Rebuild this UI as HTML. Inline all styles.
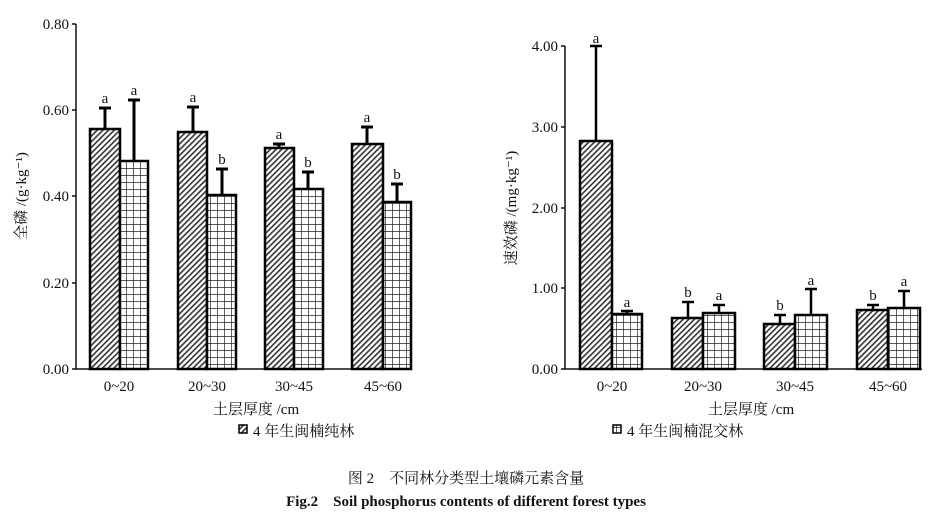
<!DOCTYPE html>
<html><head><meta charset="utf-8"><style>
html,body{margin:0;padding:0;background:#fff;}
svg{display:block;}
text{font-family:"Liberation Serif","Noto Serif CJK SC",serif;fill:#111;}
</style></head><body>
<svg width="933" height="519" viewBox="0 0 933 519" xmlns="http://www.w3.org/2000/svg">
<defs>
<pattern id="h" width="4" height="4" patternUnits="userSpaceOnUse" patternTransform="rotate(45)">
<rect width="4" height="4" fill="#fff"/><rect width="1.6" height="4" fill="#333"/></pattern>
<pattern id="c" width="7" height="7" patternUnits="userSpaceOnUse">
<rect width="7" height="7" fill="#fff"/><path d="M0 0H7M0 0V7" stroke="#222" stroke-width="1.4"/></pattern>
</defs>
<g stroke="#111" stroke-width="1.5" fill="none">
<path d="M76 24V369H412"/>
<path d="M72 24H76M72 110H76M72 196H76M72 283H76M72 369H76"/>
<path d="M565 46V369H922"/>
<path d="M561 46H565M561 127H565M561 208H565M561 288H565M561 369H565"/>
</g>
<g font-size="15" text-anchor="end">
<text x="69" y="29">0.80</text><text x="69" y="115">0.60</text><text x="69" y="201">0.40</text><text x="69" y="288">0.20</text><text x="69" y="374">0.00</text>
<text x="558" y="51">4.00</text><text x="558" y="132">3.00</text><text x="558" y="213">2.00</text><text x="558" y="293">1.00</text><text x="558" y="374">0.00</text>
</g>
<g stroke="#000" stroke-width="3">
<path d="M105 129V108M99 108H111M134 161V100M128 100H140M193 132V107M187 107H199M222 195V169M216 169H228M279 148V144M273 144H285M308 189V172M302 172H314M367 144V127M361 127H373M397 202V184M391 184H403"/>
<path d="M596 141V46M590 46H602M627 314V311M621 311H633M688 318V302M682 302H694M719 313V305M713 305H725M780 324V315M774 315H786M811 315V289M805 289H817M873 310V305M867 305H879M904 308V291M898 291H910" stroke-width="2.5"/>
</g>
<g stroke="#000" stroke-width="2.5">
<rect x="90" y="129" width="30" height="240" fill="url(#h)"/><rect x="120" y="161" width="28" height="208" fill="url(#c)"/>
<rect x="178" y="132" width="29" height="237" fill="url(#h)"/><rect x="207" y="195" width="29" height="174" fill="url(#c)"/>
<rect x="265" y="148" width="29" height="221" fill="url(#h)"/><rect x="294" y="189" width="29" height="180" fill="url(#c)"/>
<rect x="352" y="144" width="31" height="225" fill="url(#h)"/><rect x="383" y="202" width="28" height="167" fill="url(#c)"/>
<rect x="580" y="141" width="32" height="228" fill="url(#h)"/><rect x="612" y="314" width="30" height="55" fill="url(#c)"/>
<rect x="672" y="318" width="31" height="51" fill="url(#h)"/><rect x="703" y="313" width="32" height="56" fill="url(#c)"/>
<rect x="764" y="324" width="31" height="45" fill="url(#h)"/><rect x="795" y="315" width="32" height="54" fill="url(#c)"/>
<rect x="857" y="310" width="31" height="59" fill="url(#h)"/><rect x="888" y="308" width="32" height="61" fill="url(#c)"/>
</g>
<g font-size="15" text-anchor="middle">
<text x="105" y="103">a</text><text x="134" y="95">a</text><text x="193" y="102">a</text><text x="222" y="164">b</text>
<text x="279" y="139">a</text><text x="308" y="167">b</text><text x="367" y="122">a</text><text x="397" y="179">b</text>
<text x="596" y="43">a</text><text x="627" y="307">a</text><text x="688" y="297">b</text><text x="719" y="300">a</text>
<text x="780" y="310">b</text><text x="811" y="285">a</text><text x="873" y="300">b</text><text x="904" y="286">a</text>
</g>
<g font-size="15" text-anchor="middle">
<text x="119" y="391">0~20</text><text x="207" y="391">20~30</text><text x="294" y="391">30~45</text><text x="383" y="391">45~60</text>
<text x="612" y="391">0~20</text><text x="703" y="391">20~30</text><text x="795" y="391">30~45</text><text x="888" y="391">45~60</text>
<text x="256" y="414">土层厚度 /cm</text><text x="751" y="414">土层厚度 /cm</text>
</g>
<text font-size="15" transform="translate(26 196) rotate(-90)" text-anchor="middle">全磷 /(g·kg⁻¹)</text>
<text font-size="15" transform="translate(516 208) rotate(-90)" text-anchor="middle">速效磷 /(mg·kg⁻¹)</text>
<rect x="239" y="425" width="8" height="8" fill="url(#h)" stroke="#000" stroke-width="1.5"/>
<text x="253" y="436" font-size="15">4 年生闽楠纯林</text>
<rect x="613" y="425" width="8" height="8" fill="url(#c)" stroke="#000" stroke-width="1.5"/>
<text x="627" y="436" font-size="15">4 年生闽楠混交林</text>
<text x="466" y="483" font-size="15" text-anchor="middle">图 2　不同林分类型土壤磷元素含量</text>
<text x="466" y="506" font-size="15" font-weight="bold" text-anchor="middle">Fig.2　Soil phosphorus contents of different forest types</text>
</svg>
</body></html>
